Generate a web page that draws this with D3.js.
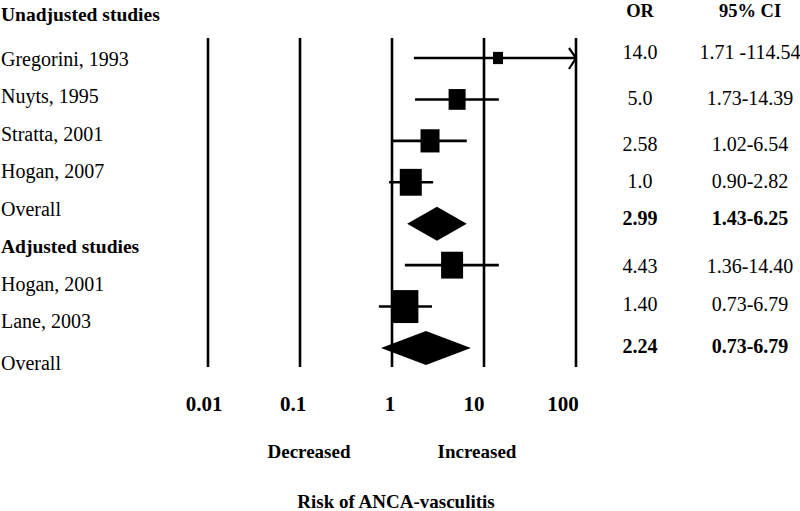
<!DOCTYPE html>
<html>
<head>
<meta charset="utf-8">
<script src="https://cdn.jsdelivr.net/npm/d3@7"></script>
<style>
html,body{margin:0;padding:0;background:#fff;}
svg{display:block;}
text{font-family:"Liberation Serif","Times New Roman",serif;fill:#000;}
</style>
</head>
<body>
<script>
// ---- data ----
const rowLabels = ["Unadjusted studies","Gregorini, 1993","Nuyts, 1995","Stratta, 2001","Hogan, 2007","Overall","Adjusted studies","Hogan, 2001","Lane, 2003","Overall"];
const headerRows = ["Unadjusted studies","Adjusted studies"];
const studies = ["Gregorini, 1993","Nuyts, 1995","Stratta, 2001","Hogan, 2007","Overall (unadjusted)","Hogan, 2001","Lane, 2003","Overall (adjusted)"];
const isPooled = [false,false,false,false,true,false,false,true];
const estimate = [14.2, 5.1, 2.59, 1.6, 3.08, 4.5, 1.38, 2.34];
const lower    = [1.73, 1.78, 1.0, 0.93, 1.46, 1.38, 0.72, 0.76];
const upper    = [114.54, 14.5, 6.5, 2.8, 6.5, 14.5, 2.72, 7.2];
const weight   = [10, 17, 19, 22, 0, 22, 27, 0];
const orText   = ["14.0","5.0","2.58","1.0","2.99","4.43","1.40","2.24"];
const ciText   = ["1.71 -114.54","1.73-14.39","1.02-6.54","0.90-2.82","1.43-6.25","1.36-14.40","0.73-6.79","0.73-6.79"];
const tickValues = [0.01, 0.1, 1, 10, 100];
const tickLabels = ["0.01","0.1","1","10","100"];
const sideLabels = ["Decreased","Increased"];
const axisTitle = "Risk of ANCA-vasculitis";
const colHeaders = ["OR","95% CI"];

// ---- layout ----
const W = 800, H = 511;
const svg = d3.select("body").append("svg").attr("width", W).attr("height", H);

const x = d3.scaleLog().domain([0.01, 100]).range([208, 576]);
const yMark = d3.scaleLinear().domain([0, 7]).range([58, 348]);
const yLabel = d3.scaleLinear().domain([1, 8]).range([65.7, 328]);
const plotTop = 38, plotBottom = 367;

// reference lines at each decade
svg.append("g").selectAll("line").data(tickValues).join("line")
  .attr("x1", d => x(d)).attr("x2", d => x(d))
  .attr("y1", plotTop).attr("y2", plotBottom)
  .attr("stroke", "#000").attr("stroke-width", 2.6);

// tick labels
const tickOffset = [-4, -7, -2, -10, -13];
svg.append("g").selectAll("text").data(tickValues).join("text")
  .attr("x", (d,i) => x(d) + tickOffset[i]).attr("y", 411)
  .attr("text-anchor", "middle").attr("font-weight", "bold").attr("font-size", 21)
  .text((d,i) => tickLabels[i]);

// side labels
svg.append("text").attr("x", 309).attr("y", 458).attr("text-anchor","middle")
  .attr("font-weight","bold").attr("font-size",19).text(sideLabels[0]);
svg.append("text").attr("x", 477).attr("y", 458).attr("text-anchor","middle")
  .attr("font-weight","bold").attr("font-size",19).text(sideLabels[1]);
svg.append("text").attr("x", 396).attr("y", 508).attr("text-anchor","middle")
  .attr("font-weight","bold").attr("font-size",19).text(axisTitle);

// row labels on the left
svg.append("g").selectAll("text").data(rowLabels).join("text")
  .attr("x", 1)
  .attr("y", (d,i) => i === 0 ? 20.7 : (i === 9 ? 370 : yLabel(i)))
  .attr("font-size", d => headerRows.includes(d) ? 19.5 : 20)
  .attr("font-weight", d => headerRows.includes(d) ? "bold" : "normal")
  .text(d => d);

// column headers
svg.append("text").attr("x", 640).attr("y", 17).attr("text-anchor","middle")
  .attr("font-weight","bold").attr("font-size",18.5).text(colHeaders[0]);
svg.append("text").attr("x", 750).attr("y", 17).attr("text-anchor","middle")
  .attr("font-weight","bold").attr("font-size",18.5).text(colHeaders[1]);

// OR and CI columns
const orOff = [1, 6, 10, 6, 1, 8, 4, 5];
svg.append("g").selectAll("text").data(orText).join("text")
  .attr("x", 640).attr("y", (d,i) => yMark(i) + orOff[i])
  .attr("text-anchor","middle").attr("font-size",20)
  .attr("font-weight",(d,i) => isPooled[i] ? "bold" : "normal")
  .text(d => d);
svg.append("g").selectAll("text").data(ciText).join("text")
  .attr("x", 750).attr("y", (d,i) => yMark(i) + orOff[i])
  .attr("text-anchor","middle").attr("font-size",20)
  .attr("font-weight",(d,i) => isPooled[i] ? "bold" : "normal")
  .text(d => d);

// confidence interval lines (individual studies)
const idx = d3.range(studies.length);
const indiv = idx.filter(i => !isPooled[i]);
const pooled = idx.filter(i => isPooled[i]);
const xMax = x.domain()[1];

svg.append("g").selectAll("line").data(indiv).join("line")
  .attr("x1", i => x(lower[i])).attr("x2", i => x(Math.min(upper[i], xMax)))
  .attr("y1", i => yMark(i)).attr("y2", i => yMark(i))
  .attr("stroke","#000").attr("stroke-width",2.6);

// arrow for truncated upper limits
svg.append("g").selectAll("path").data(indiv.filter(i => upper[i] > xMax)).join("path")
  .attr("d", i => {
    const ax = x(xMax), ay = yMark(i);
    return `M${ax-7},${ay-10}L${ax},${ay}L${ax-7},${ay+11}`;
  })
  .attr("fill","none").attr("stroke","#000").attr("stroke-width",2.2);

// study boxes
svg.append("g").selectAll("rect").data(indiv).join("rect")
  .attr("x", i => x(estimate[i]) - weight[i]/2)
  .attr("y", i => yMark(i) - weight[i]*1.22/2)
  .attr("width", i => weight[i])
  .attr("height", i => weight[i]*1.22)
  .attr("fill","#000");

// pooled diamonds
svg.append("g").selectAll("path").data(pooled).join("path")
  .attr("d", i => {
    const cy = yMark(i), h = 17;
    return `M${x(lower[i])},${cy}L${x(estimate[i])},${cy-h}L${x(upper[i])},${cy}L${x(estimate[i])},${cy+h}Z`;
  })
  .attr("fill","#000");
</script>
</body>
</html>
